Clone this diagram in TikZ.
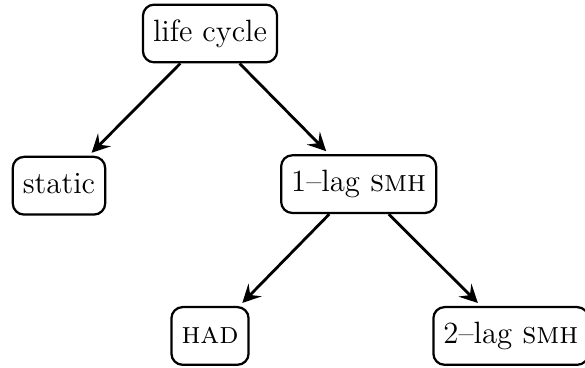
\documentclass[tikz,border=0pt]{standalone}
\usetikzlibrary{arrows.meta}
\begin{document}
\begin{tikzpicture}[box/.style={draw, rounded corners=4pt, thick, font=\fontsize{11}{13}\selectfont,
		inner xsep=3.6pt, inner ysep=5.4pt, text height=7.6pt, text depth=2.2pt},
	link/.style={-{Stealth[length=6.5pt,width=6.5pt,inset=2.5pt]}, line width=1pt, shorten >=1.5pt}]
	\useasboundingbox (0,0) rectangle (7.34,-4.605);
	\node[box] (cycle) at (2.635,-0.42) {life cycle};
	\node[box] (static) at (0.74,-2.33) {static};
	\node[box] (lag1) at (4.50,-2.31) {1--lag \textsc{smh}};
	\node[box] (had) at (2.635,-4.215) {\textsc{had}};
	\node[box] (lag2) at (6.41,-4.215) {2--lag \textsc{smh}};
	\draw[link] (cycle) -- (static);
	\draw[link] (cycle) -- (lag1);
	\draw[link] (lag1) -- (had);
	\draw[link] (lag1) -- (lag2);
\end{tikzpicture}
\end{document}
